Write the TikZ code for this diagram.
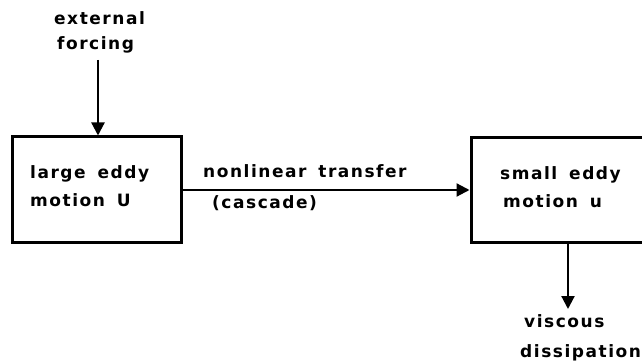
\documentclass[tikz,border=0pt]{standalone}
\usepackage{fontspec}
\setmainfont{DejaVu Sans}[LetterSpace=9,WordSpace=1.6]
\usetikzlibrary{arrows.meta}
\begin{document}
\begin{tikzpicture}[x=1pt,y=-1pt,
  lbl/.style={anchor=base west,inner sep=0pt,font=\fontsize{17}{19}\selectfont\bfseries},
  box/.style={draw,line width=3pt,inner sep=0pt},
  flow/.style={line width=2.2pt,-{Triangle[length=13pt,width=13pt]}}]
\useasboundingbox (0,0) rectangle (642,363);
% boxes
\node[box,minimum width=169pt,minimum height=106pt] (L) at (96.5,190) {};
\node[box,minimum width=178pt,minimum height=105pt] (R) at (560,190.5) {};
% box texts
\node[lbl] (L1) at (30,179) {large eddy};
\node[lbl] (L2) at (30,207) {motion U};
\node[lbl] (R1) at (500,180) {small eddy};
\node[lbl] (R2) at (503,208) {motion u};
% other labels
\node[lbl] (E1) at (54,25) {external};
\node[lbl] (E2) at (57,50) {forcing};
\node[lbl] (N1) at (203,178) {nonlinear transfer};
\node[lbl] (N2) at (212,209) {(cascade)};
\node[lbl] (V1) at (524,327) {viscous};
\node[lbl] (V2) at (520,357) {dissipation};
% connectors
\coordinate (ftop) at (98,60);
\coordinate (dend) at (568,309);
\draw[flow] (ftop) -- (L.north -| ftop);
\draw[flow] (L.east) -- (L.east -| R.west);
\draw[flow] (R.south -| dend) -- (dend);
\end{tikzpicture}
\end{document}
